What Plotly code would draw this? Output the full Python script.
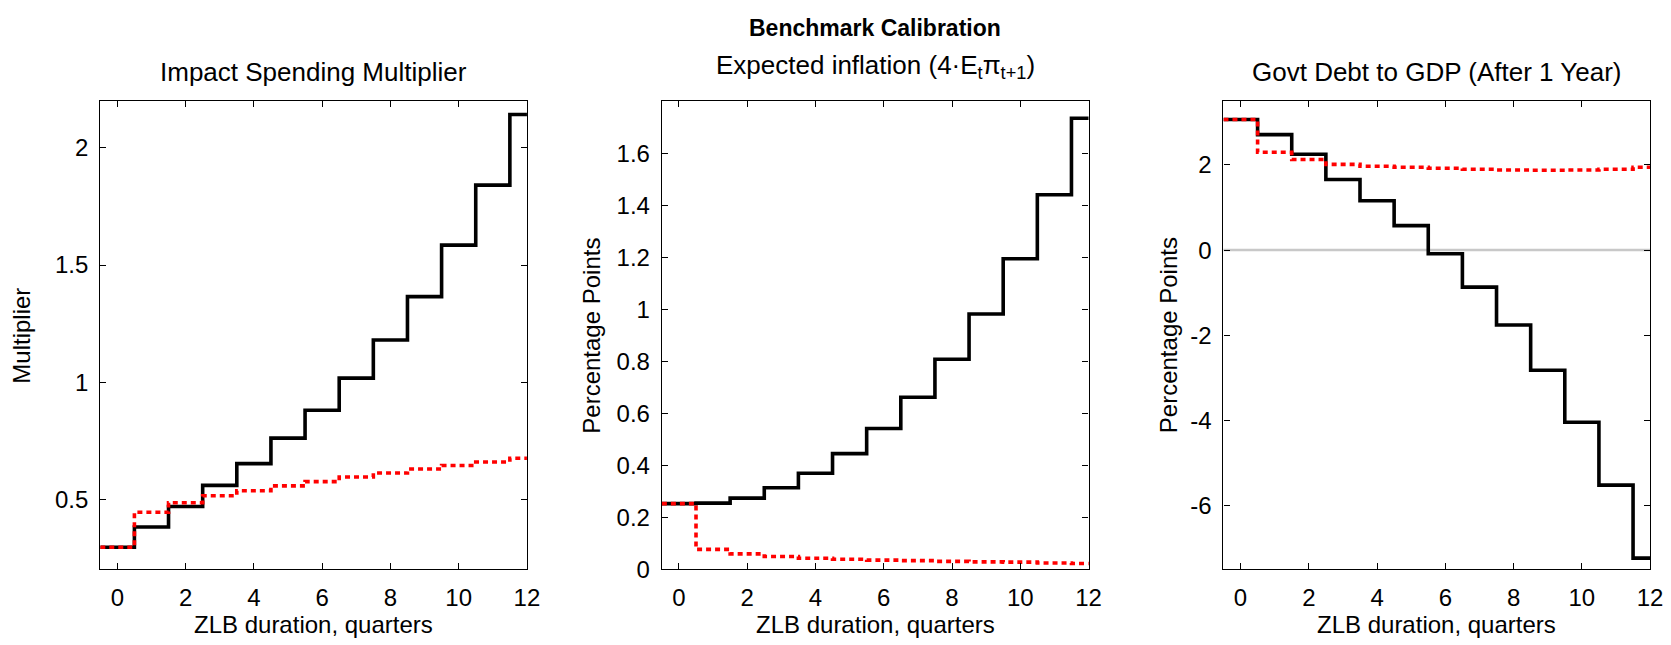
import plotly.graph_objects as go

# ---------------- data ----------------
duration = list(range(13))  # ZLB duration, quarters

multiplier_benchmark = [0.295, 0.381, 0.469, 0.559, 0.652, 0.761, 0.880, 1.017, 1.180, 1.365, 1.585, 1.841, 2.143]
multiplier_alt = [0.295, 0.444, 0.485, 0.515, 0.536, 0.557, 0.575, 0.595, 0.612, 0.629, 0.644, 0.659, 0.675]

inflation_benchmark = [0.253, 0.255, 0.274, 0.314, 0.370, 0.445, 0.542, 0.662, 0.808, 0.982, 1.194, 1.440, 1.734]
inflation_alt = [0.253, 0.077, 0.060, 0.050, 0.043, 0.039, 0.036, 0.034, 0.031, 0.029, 0.028, 0.025, 0.023]

debt_benchmark = [3.067, 2.713, 2.252, 1.660, 1.161, 0.576, -0.085, -0.869, -1.760, -2.821, -4.043, -5.519, -7.233]
debt_alt = [3.067, 2.298, 2.129, 2.014, 1.968, 1.945, 1.922, 1.899, 1.883, 1.875, 1.883, 1.899, 1.945]

x_ticks = [0, 2, 4, 6, 8, 10, 12]
x_ticklabels = ["0", "2", "4", "6", "8", "10", "12"]
mult_ticks = [0.5, 1, 1.5, 2]
mult_ticklabels = ["0.5", "1", "1.5", "2"]
infl_ticks = [0, 0.2, 0.4, 0.6, 0.8, 1, 1.2, 1.4, 1.6]
infl_ticklabels = ["0", "0.2", "0.4", "0.6", "0.8", "1", "1.2", "1.4", "1.6"]
debt_ticks = [-6, -4, -2, 0, 2]
debt_ticklabels = ["-6", "-4", "-2", "0", "2"]

suptitle = "<b>Benchmark Calibration</b>"
titles = ["Impact Spending Multiplier",
          "Expected inflation (4·E<sub>t</sub>π<sub>t+1</sub>)",
          "Govt Debt to GDP (After 1 Year)"]
ytitles = ["Multiplier", "Percentage Points", "Percentage Points"]
xtitle = "ZLB duration, quarters"

# ---------------- layout geometry (pixels) ----------------
W, H = 1671, 645
TOP, BOTTOM = 95, 573
FONT = "Liberation Sans, Arial, Helvetica, sans-serif"
TICK_SIZE = 24
LABEL_SIZE = 24
TITLE_SIZE = 26

panels = [
    dict(l=93, r=523, yr=[0.2, 2.2], tv=mult_ticks, tt=mult_ticklabels,
         black=multiplier_benchmark, red=multiplier_alt, title_y=65, ytx=13.5),
    dict(l=659, r=1089, yr=[0, 1.8], tv=infl_ticks, tt=infl_ticklabels,
         black=inflation_benchmark, red=inflation_alt, title_y=60, ytx=588),
    dict(l=1225, r=1655, yr=[-7.5, 3.5], tv=debt_ticks, tt=debt_ticklabels,
         black=debt_benchmark, red=debt_alt, title_y=65, ytx=1169),
]


def px_x(v):
    return v / W


def px_y(v):
    return 1 - v / H


fig = go.Figure()
annotations = []
edges = [d - 0.5 for d in duration] + [duration[-1] + 0.5]

for i, p in enumerate(panels):
    n = "" if i == 0 else str(i + 1)
    xa, ya = "x" + n, "y" + n
    fig.add_trace(go.Scatter(x=edges, y=p["black"] + [p["black"][-1]], mode="lines",
                             line=dict(color="black", width=3.6, shape="hv"),
                             xaxis=xa, yaxis=ya, showlegend=False))
    fig.add_trace(go.Scatter(x=edges, y=p["red"] + [p["red"][-1]], mode="lines",
                             line=dict(color="red", width=3.6, shape="hv", dash="5px,4px"),
                             xaxis=xa, yaxis=ya, showlegend=False))
    common = dict(ticks="inside", ticklen=6, tickwidth=1, tickcolor="black",
                  showline=True, linecolor="black", linewidth=1.3, mirror="ticks",
                  showgrid=False, zeroline=False,
                  tickfont=dict(family=FONT, size=TICK_SIZE, color="black"))
    fig.update_layout(**{
        "xaxis" + n: dict(domain=[px_x(p["l"]), px_x(p["r"])], range=[-0.5, 12],
                          tickmode="array", tickvals=x_ticks, ticktext=x_ticklabels,
                          anchor=ya, ticklabelstandoff=7, **common),
        "yaxis" + n: dict(domain=[px_y(BOTTOM), px_y(TOP)], range=p["yr"],
                          tickmode="array", tickvals=p["tv"], ticktext=p["tt"],
                          anchor=xa, ticklabelstandoff=6, **common),
    })
    cx = (p["l"] + p["r"]) / 2
    annotations.append(dict(text=titles[i], x=px_x(cx), y=px_y(p["title_y"]), xref="paper", yref="paper",
                            showarrow=False, xanchor="center", yanchor="middle",
                            font=dict(family=FONT, size=TITLE_SIZE, color="black")))
    annotations.append(dict(text=xtitle, x=px_x(cx), y=px_y(629), xref="paper", yref="paper",
                            showarrow=False, xanchor="center", yanchor="middle", borderpad=0,
                            font=dict(family=FONT, size=LABEL_SIZE, color="black")))
    annotations.append(dict(text=ytitles[i], x=px_x(p["ytx"]), y=px_y((TOP + BOTTOM) / 2),
                            xref="paper", yref="paper", textangle=-90,
                            showarrow=False, xanchor="center", yanchor="middle", borderpad=0,
                            font=dict(family=FONT, size=LABEL_SIZE, color="black")))

annotations.append(dict(text=suptitle, x=0.5 * (659 + 1089) / W, y=px_y(20), xref="paper", yref="paper",
                        showarrow=False, xanchor="center", yanchor="middle", borderpad=0,
                        font=dict(family=FONT, size=23, color="black")))

fig.add_shape(type="line", xref="x3 domain", x0=0, x1=1, yref="y3", y0=0, y1=0,
              line=dict(color="#c8c8c8", width=2.5), layer="below")

fig.update_layout(width=W, height=H, margin=dict(l=0, r=0, t=0, b=0),
                  paper_bgcolor="white", plot_bgcolor="white",
                  annotations=annotations, showlegend=False,
                  font=dict(family=FONT, color="black"))

fig.write_html("out.html")
